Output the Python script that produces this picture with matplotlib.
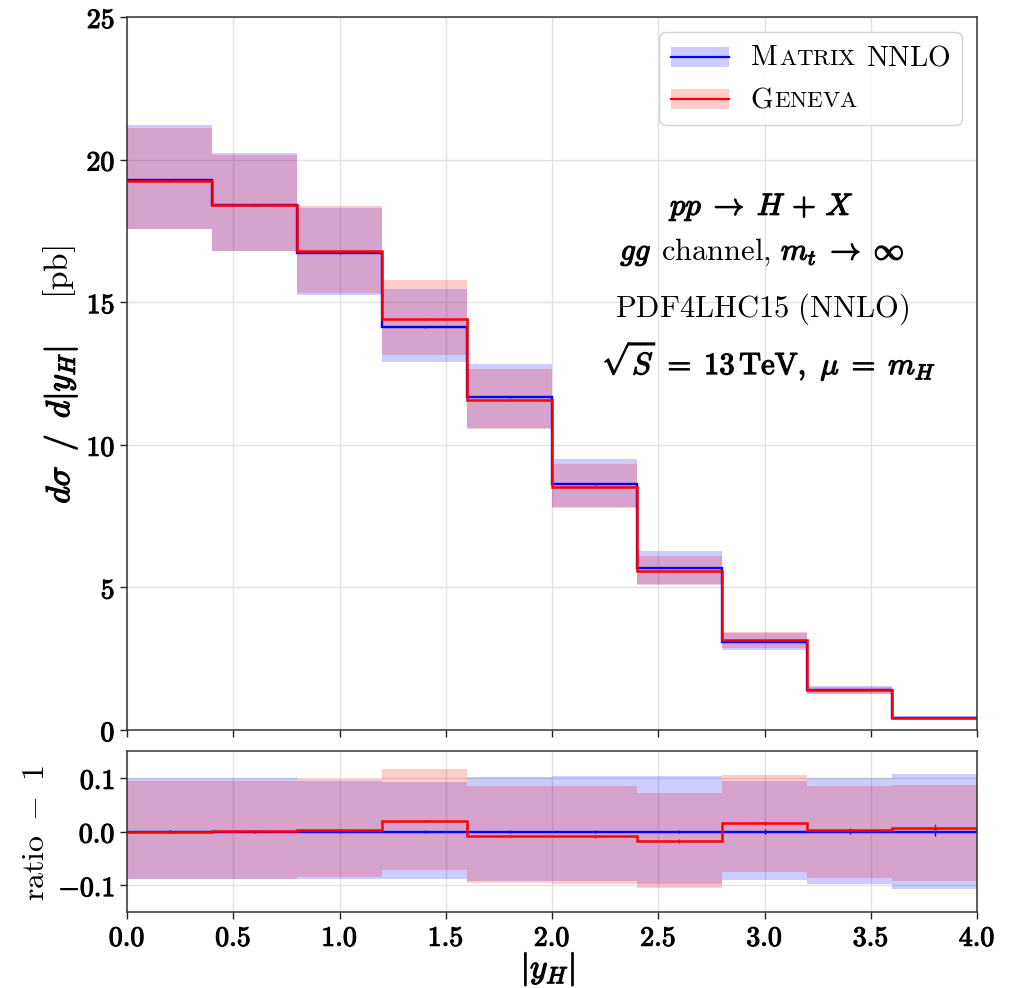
import numpy as np
import matplotlib
matplotlib.use("Agg")
import matplotlib.pyplot as plt
from matplotlib import patheffects as pe
from matplotlib.offsetbox import (AnchoredOffsetbox, HPacker, VPacker, TextArea,
                                  DrawingArea, AnnotationBbox)
from matplotlib.patches import Rectangle
from matplotlib.lines import Line2D
from matplotlib.ticker import FuncFormatter

plt.rcParams['mathtext.fontset'] = 'cm'
plt.rcParams['axes.unicode_minus'] = False

# ---------------- data ----------------
bin_edges = [0.0, 0.4, 0.8, 1.2, 1.6, 2.0, 2.4, 2.8, 3.2, 3.6, 4.0]
matrix_xs = [19.28, 18.40, 16.73, 14.14, 11.66, 8.61, 5.68, 3.10, 1.400, 0.430]
geneva_xs = [19.26, 18.42, 16.78, 14.42, 11.56, 8.53, 5.58, 3.15, 1.404, 0.433]
# scale-uncertainty bands, relative to Matrix central value (ratio units)
matrix_rel_up = [0.100, 0.100, 0.095, 0.093, 0.102, 0.104, 0.104, 0.095, 0.099, 0.108]
matrix_rel_dn = [-0.088, -0.088, -0.088, -0.088, -0.093, -0.093, -0.097, -0.090, -0.097, -0.108]
geneva_rel_up = [0.095, 0.095, 0.098, 0.116, 0.085, 0.085, 0.072, 0.106, 0.085, 0.087]
geneva_rel_dn = [-0.088, -0.088, -0.085, -0.071, -0.096, -0.097, -0.105, -0.076, -0.087, -0.092]
# statistical errors (relative)
matrix_stat = [0.002, 0.002, 0.002, 0.002, 0.003, 0.003, 0.003, 0.005, 0.005, 0.008]
geneva_stat = [0.002, 0.002, 0.002, 0.002, 0.002, 0.003, 0.003, 0.004, 0.004, 0.007]

series_labels = [("M", "ATRIX", "NNLO"), ("G", "ENEVA", "")]
annot_line1 = r'$pp\;\rightarrow\;H\,+\,X$'
annot_line2 = (r'$gg$', r'$\mathrm{channel,}$', r'$m_t\;\rightarrow\;\infty$')
annot_line3 = r'$\mathrm{PDF4LHC15\ (NNLO)}$'
annot_line4 = r'$\sqrt{S}\;=\;13\,\mathrm{TeV},\ \mu\;=\;m_H$'

# ---------------- figure ----------------
W, H = 1009, 988
fig = plt.figure(figsize=(W / 100, H / 100), dpi=100)
ax = fig.add_axes([127 / W, 1 - 730 / H, 850 / W, 713 / H])
axr = fig.add_axes([127 / W, 1 - 912 / H, 850 / W, 161 / H])

edges = np.array(bin_edges)
centers = 0.5 * (edges[:-1] + edges[1:])
mx = np.array(matrix_xs)
gx = np.array(geneva_xs)
mup, mdn = np.array(matrix_rel_up), np.array(matrix_rel_dn)
gup, gdn = np.array(geneva_rel_up), np.array(geneva_rel_dn)
mst, gst = np.array(matrix_stat), np.array(geneva_stat)

BLUE = '#0000ff'
RED = '#ff0000'
bold = [pe.withStroke(linewidth=0.9, foreground='black')]
boldtick = [pe.withStroke(linewidth=0.8, foreground='black')]

# main panel
ax.stairs(mx * (1 + mup), edges, baseline=mx * (1 + mdn), fill=True, color=BLUE, alpha=0.2, lw=0)
ax.stairs(mx * (1 + gup), edges, baseline=mx * (1 + gdn), fill=True, color=RED, alpha=0.2, lw=0)
ax.stairs(mx, edges, baseline=None, color=BLUE, lw=1.7)
ax.stairs(gx, edges, baseline=None, color=RED, lw=1.8)
ax.errorbar(centers, mx, yerr=mx * mst, fmt='none', ecolor=BLUE, elinewidth=1)
ax.errorbar(centers, gx, yerr=gx * gst, fmt='none', ecolor=RED, elinewidth=1)

# ratio panel
ratio_g = gx / mx - 1
axr.stairs(mup, edges, baseline=mdn, fill=True, color=BLUE, alpha=0.2, lw=0)
axr.stairs(gup, edges, baseline=gdn, fill=True, color=RED, alpha=0.2, lw=0)
axr.stairs(np.zeros_like(mx), edges, baseline=None, color=BLUE, lw=1.7)
axr.stairs(ratio_g, edges, baseline=None, color=RED, lw=1.8)
axr.errorbar(centers, np.zeros_like(mx), yerr=mst, fmt='none', ecolor=BLUE, elinewidth=1)
axr.errorbar(centers, ratio_g, yerr=gst, fmt='none', ecolor=RED, elinewidth=1)


def bold_fmt(nd):
    def f(v, p):
        if abs(v) < 1e-9:
            v = 0.0
        return r'$\mathbf{' + f'{v:.{nd}f}' + '}$'
    return FuncFormatter(f)


for a in (ax, axr):
    a.set_xlim(0, 4)
    a.set_xticks(np.arange(0, 4.01, 0.5))
    a.grid(True, color='#e2e2e2', lw=1)
    a.set_axisbelow(True)
    a.tick_params(direction='out', length=5, width=1, labelsize=20, color='#222222')
    for s in a.spines.values():
        s.set_color('#333333')
        s.set_linewidth(1.1)

ax.set_ylim(0, 25)
ax.set_yticks([0, 5, 10, 15, 20, 25])
ax.yaxis.set_major_formatter(bold_fmt(0))
ax.tick_params(labelbottom=False)

axr.set_ylim(-0.15, 0.15)
axr.set_yticks([-0.1, 0.0, 0.1])
axr.yaxis.set_major_formatter(bold_fmt(1))
axr.xaxis.set_major_formatter(bold_fmt(1))

for a in (ax, axr):
    for lbl in a.get_xticklabels() + a.get_yticklabels():
        lbl.set_path_effects(boldtick)

# labels
fig.text(548 / W, 1 - 969 / H, r'$|y_H|$', size=24, ha='center', va='center', path_effects=bold)
fig.text(60 / W, 1 - 425 / H, r'$d\sigma\;\;/\;\;d|y_H|$', size=24, rotation=90,
         ha='center', va='center', path_effects=bold)
fig.text(60 / W, 1 - 272 / H, r'$[\mathrm{pb}]$', size=24, rotation=90, ha='center', va='center')
fig.text(36 / W, 1 - 833 / H, r'$\mathrm{ratio}\ -\ 1$', size=23, rotation=90,
         ha='center', va='center')

# annotations
xa = 2.99
ax.text(xa, 18.06, annot_line1, size=22, ha='center', va='baseline', path_effects=bold)
pieces = [TextArea(annot_line2[0], textprops=dict(size=22, path_effects=bold)),
          TextArea(annot_line2[1], textprops=dict(size=22)),
          TextArea(annot_line2[2], textprops=dict(size=22, path_effects=bold))]
line2 = HPacker(children=pieces, align='baseline', pad=0, sep=7)
ab = AnnotationBbox(line2, (xa, 16.2), xycoords='data', box_alignment=(0.5, 0.0),
                    frameon=False, pad=0)
ax.add_artist(ab)
ax.text(xa, 14.48, annot_line3, size=22, ha='center', va='baseline')
ax.text(xa + 0.03, 12.48, annot_line4, size=22, ha='center', va='baseline', path_effects=bold)

# legend (small caps emulated)
entries = []
for (big, small, rest), col in zip(series_labels, [BLUE, RED]):
    da = DrawingArea(42, 14.4, 0, 0)
    da.add_artist(Rectangle((0, 0), 42, 14.4, facecolor=col, alpha=0.2, lw=0))
    da.add_artist(Line2D([0, 42], [7.2, 7.2], color=col, lw=1.6))
    t1 = HPacker(children=[TextArea(r'$\mathrm{' + big + '}$', textprops=dict(size=21)),
                           TextArea(r'$\mathrm{' + small + '}$', textprops=dict(size=16.5))],
                 align='baseline', pad=0, sep=0.5)
    kids = [t1]
    if rest:
        kids.append(TextArea(r'$\mathrm{' + rest + '}$', textprops=dict(size=21)))
    txt = HPacker(children=kids, align='baseline', pad=0, sep=7)
    entries.append(HPacker(children=[da, txt], align='center', pad=0, sep=15))
vp = VPacker(children=entries, align='left', pad=0, sep=10)
leg = AnchoredOffsetbox(loc='upper right', child=vp, pad=0.4, borderpad=0.5,
                        frameon=True, prop=dict(size=21))
leg.patch.set_boxstyle('round', pad=0, rounding_size=0.25)
leg.patch.set_edgecolor('#cccccc')
leg.patch.set_facecolor('white')
leg.patch.set_alpha(0.85)
ax.add_artist(leg)

fig.savefig('out.png', dpi=100)
